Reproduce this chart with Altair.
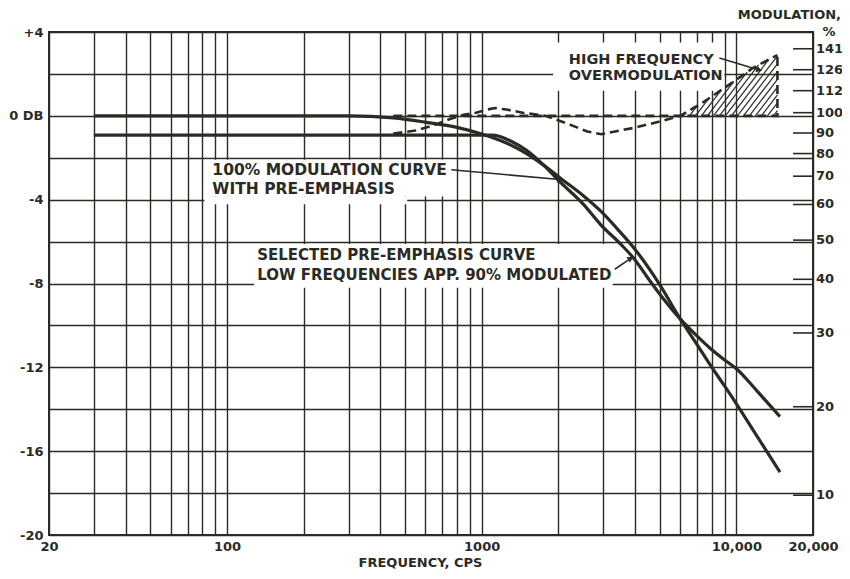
import altair as alt
import pandas as pd
import numpy as np

# ---------------- data ----------------
# grid positions
freq_grid = [20, 30, 40, 50, 60, 70, 80, 90, 100, 200, 300, 400, 500, 600, 700, 800, 900,
             1000, 2000, 3000, 4000, 5000, 6000, 7000, 8000, 9000, 10000, 20000]
db_grid = list(range(-20, 5, 2))

# 100% modulation curve with pre-emphasis
f_100 = [30, 300, 450, 600, 800, 1000, 1250, 1500, 1750, 2050, 2500, 2936, 3500, 3988,
         5000, 6030, 7000, 7908, 9000, 10080, 12000, 14840]
db_100 = [0, 0, -0.1, -0.3, -0.55, -0.87, -1.3, -1.8, -2.35, -3.0, -3.8, -4.55, -5.55, -6.35,
          -8.05, -9.7, -10.9, -11.9, -12.9, -13.8, -15.25, -17.0]

# selected pre-emphasis curve (low frequencies approx. 90 % modulated)
f_sel = [30, 1100, 1300, 1500, 1750, 2050, 2500, 2936, 3500, 3988, 4500, 5000, 6030, 7000,
         7908, 9000, 10080, 12000, 14840]
db_sel = [-0.92, -0.92, -1.2, -1.65, -2.35, -3.2, -4.2, -5.2, -6.1, -6.85, -7.75, -8.5,
          -9.7, -10.5, -11.1, -11.65, -12.1, -13.1, -14.35]

# resulting modulation (dashed)
f_dash = [450, 550, 650, 750, 850, 950, 1050, 1130, 1250, 1450, 1780, 2200, 2600, 2950,
          3500, 3970, 5000, 6030, 7350, 9600, 11600, 14500]
db_dash = [-0.85, -0.7, -0.45, -0.15, 0.05, 0.15, 0.3, 0.37, 0.3, 0.15, 0.0, -0.4, -0.75,
           -0.88, -0.7, -0.57, -0.27, 0.0, 0.62, 1.57, 2.28, 2.9]

# 100 % reference (dashed) closing the overmodulation area
f_ref = [450, 14500, 14500]
db_ref = [0, 0, 2.9]

# right-hand modulation scale
mod_labels = ["141", "126", "112", "100", "90", "80", "70", "60", "50", "40", "30", "20", "10"]
mod_db = [3.2, 2.2, 1.2, 0.15, -0.82, -1.8, -2.88, -4.23, -5.93, -7.8, -10.36, -13.88, -18.1]

# annotations
ann_text = ["HIGH FREQUENCY", "OVERMODULATION",
            "100% MODULATION CURVE", "WITH PRE-EMPHASIS",
            "SELECTED PRE-EMPHASIS CURVE", "LOW FREQUENCIES APP. 90% MODULATED"]
ann_f = [2200, 2200, 87.6, 87.6, 131.4, 131.4]
ann_db = [2.66, 1.88, -2.57, -3.5, -6.63, -7.58]
ann_size = [14.5, 14.5, 15.5, 15.5, 15, 15]

# white label backgrounds (hide the grid behind the lettering)
box_f = [1906, 81.5, 81.5, 127.8]
box_f2 = [8966, 774, 510, 3270]
box_db = [3.5, -2.1, -3.85, -6.12]
box_db2 = [1.2, -3.85, -4.22, -8.2]

# leader lines
lead_f = [8578, 760, 3331]
lead_db = [2.76, -2.57, -7.32]
lead_f2 = [12297, 2030, 3850]
lead_db2 = [2.19, -3.04, -6.8]
lead_ang = [17, 5, 330]

# ---------------- layout ----------------
W, H = 764, 503
INK = "#2b2b26"
FONT = "DejaVu Sans"

xs = alt.Scale(type="log", domain=[20, 20000], nice=False)
ys = alt.Scale(domain=[-20, 4], nice=False)

x_axis = alt.Axis(
    values=freq_grid, grid=True, gridColor=INK, gridWidth=1.4, gridOpacity=1,
    domain=False, ticks=False, labelFlush=False, labelOverlap=False,
    labelExpr=("datum.value == 20 ? '20' : datum.value == 100 ? '100' : "
               "datum.value == 1000 ? '1000' : datum.value == 10000 ? '10,000' : "
               "datum.value == 20000 ? '20,000' : ''"),
    labelFont=FONT, labelFontWeight="bold", labelFontSize=13, labelColor=INK, labelPadding=5,
    title="FREQUENCY, CPS", titleFont=FONT, titleFontWeight="bold", titleFontSize=13,
    titleColor=INK, titlePadding=3, titleX=371)
y_axis = alt.Axis(
    values=db_grid, grid=True, gridColor=INK, gridWidth=1.4, gridOpacity=1,
    domain=False, ticks=False, labelOverlap=False,
    labelExpr=("datum.value == 4 ? '+4' : datum.value == 0 ? '0 DB' : "
               "(datum.value % 4 == 0 ? '-' + abs(datum.value) : '')"),
    labelFont=FONT, labelFontWeight="bold", labelFontSize=13, labelColor=INK, labelPadding=6,
    title=None)

X = alt.X("f:Q", scale=xs, axis=x_axis)
Y = alt.Y("db:Q", scale=ys, axis=y_axis)

# ---------------- hatch for the overmodulation area ----------------
PXD = W / 3.0
PXB = H / 24.0
u_d = np.log10(f_dash) * PXD
v_d = np.array(db_dash) * PXB
u0 = np.log10(6030) * PXD
u1 = np.log10(14500) * PXD
k, step = 1.3, 6.0
hatch = []
a = u0 + 3.0
while a < u1:
    us = np.linspace(a, u1, 600)
    vs = k * (us - a)
    cv = np.interp(us, u_d, v_d)
    idx = np.where(vs >= cv)[0]
    ue = us[idx[0]] if len(idx) else u1
    hatch.append({"f": 10 ** (a / PXD), "db": 0.0,
                  "f2": 10 ** (ue / PXD), "db2": k * (ue - a) / PXB})
    a += step
df_hatch = pd.DataFrame(hatch)

# ---------------- layers ----------------
df_grid = pd.DataFrame({"f": [20, 20000], "db": [-20, 4]})
grid_layer = alt.Chart(df_grid).mark_point(opacity=0).encode(x=X, y=Y)

df_box = pd.DataFrame({"f": box_f, "f2": box_f2, "db": box_db, "db2": box_db2})
boxes = alt.Chart(df_box).mark_rect(fill="white").encode(
    x=X, x2="f2:Q", y=Y, y2="db2:Q")

hatch_layer = alt.Chart(df_hatch).mark_rule(color=INK, strokeWidth=1.2).encode(
    x=X, x2="f2:Q", y=Y, y2="db2:Q")

df_ref = pd.DataFrame({"f": f_ref, "db": db_ref, "seq": [0, 1, 2]})
ref_line = alt.Chart(df_ref).mark_line(color=INK, strokeWidth=2.6, strokeDash=[9, 5]).encode(
    x=X, y=Y, order="seq:Q")

df_dash = pd.DataFrame({"f": f_dash, "db": db_dash})
dash_line = alt.Chart(df_dash).mark_line(color=INK, strokeWidth=2.6, strokeDash=[9, 5]).encode(
    x=X, y=Y)

df_100 = pd.DataFrame({"f": f_100, "db": db_100})
line_100 = alt.Chart(df_100).mark_line(color=INK, strokeWidth=3.2, interpolate="monotone").encode(
    x=X, y=Y)

df_sel = pd.DataFrame({"f": f_sel, "db": db_sel})
line_sel = alt.Chart(df_sel).mark_line(color=INK, strokeWidth=3.2, interpolate="monotone").encode(
    x=X, y=Y)

df_lead = pd.DataFrame({"f": lead_f, "db": lead_db, "f2": lead_f2, "db2": lead_db2})
leaders = alt.Chart(df_lead).mark_rule(color=INK, strokeWidth=1.6).encode(
    x=X, x2="f2:Q", y=Y, y2="db2:Q")

df_arrow = pd.DataFrame({"f": lead_f2, "db": lead_db2, "ang": lead_ang})
arrows = alt.Chart(df_arrow).mark_point(shape="triangle-right", filled=True, color=INK,
                                        size=45, opacity=1).encode(
    x=X, y=Y, angle=alt.Angle("ang:Q", scale=None))

df_mod = pd.DataFrame({"f": [16700] * len(mod_db), "f2": [20000] * len(mod_db),
                       "db": mod_db})
mod_ticks = alt.Chart(df_mod).mark_rule(color=INK, strokeWidth=1.6).encode(
    x=X, x2="f2:Q", y=Y)

df_modl = pd.DataFrame({"f": [20000] * len(mod_db), "db": mod_db, "label": mod_labels})
mod_text = alt.Chart(df_modl).mark_text(align="left", baseline="middle", dx=3, font=FONT,
                                        fontWeight="bold", fontSize=13, color=INK).encode(
    x=X, y=Y, text="label:N")

df_modt = pd.DataFrame({"f": [20000, 20000], "db": [4.8, 3.98], "label": ["MODULATION,", "%"]})
mod_title = alt.Chart(df_modt.iloc[:1]).mark_text(align="right", baseline="middle", dx=28,
                                                  font=FONT, fontWeight="bold", fontSize=13,
                                                  color=INK).encode(x=X, y=Y, text="label:N")
mod_pct = alt.Chart(df_modt.iloc[1:]).mark_text(align="center", baseline="middle", dx=16,
                                                font=FONT, fontWeight="bold", fontSize=13,
                                                color=INK).encode(x=X, y=Y, text="label:N")

df_ann = pd.DataFrame({"f": ann_f, "db": ann_db, "label": ann_text, "size": ann_size})
ann = alt.Chart(df_ann).mark_text(align="left", baseline="middle", font=FONT,
                                  fontWeight="bold", color=INK).encode(
    x=X, y=Y, text="label:N", size=alt.Size("size:Q", scale=None, legend=None))

chart = alt.layer(
    grid_layer, boxes, hatch_layer, ref_line, dash_line, line_100, line_sel,
    leaders, arrows, mod_ticks, mod_text, mod_title, mod_pct, ann
).properties(
    width=W, height=H,
    padding={"left": 41, "top": 24, "right": 29, "bottom": 36},
    autosize=alt.AutoSizeParams(type="none"),
    background="white",
).configure_view(stroke=INK, strokeWidth=2, fill="white")

chart.save("out.html", embed_options={"renderer": "svg", "actions": False})
